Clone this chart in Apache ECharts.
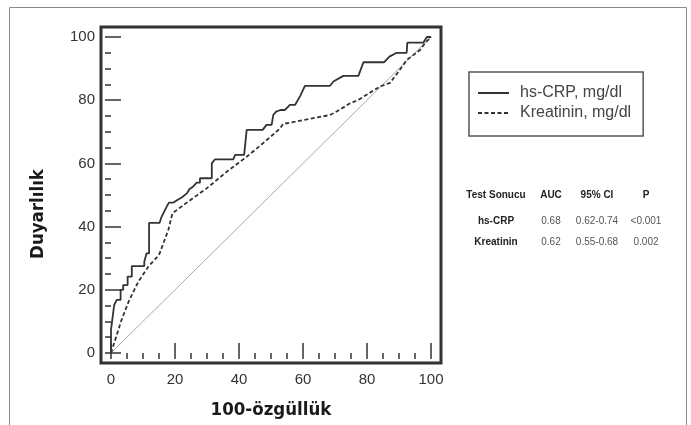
<!DOCTYPE html>
<html>
<head>
<meta charset="utf-8">
<script src="https://cdn.jsdelivr.net/npm/echarts@6/dist/echarts.min.js"></script>
<style>html,body{margin:0;padding:0;background:#fff}#c{width:691px;height:425px}</style>
</head>
<body>
<div id="c"></div>
<script>
// hs-CRP ROC curve (x = 100-özgüllük, y = Duyarlılık)
var crpX = [0,0,0.4,0.4,1,1,1.8,3,3,3.8,3.8,5.2,5.2,6.5,6.5,10.4,10.4,11.1,11.9,11.9,15.2,15.8,16.9,17.4,18.1,19.5,21,22.1,23.7,24.5,25.7,26.8,27.8,27.8,31.5,31.5,32.5,38.2,38.8,41.6,42.4,47.4,48.6,50.2,50.7,51.6,53,54.4,55.9,57.5,59.1,60.6,68.4,69.5,72.6,77.3,78.9,85.3,87,89.3,92.4,92.6,97.6,98.7,100];
var crpY = [0,7.4,7.4,10.5,10.5,15.2,16.8,16.8,20,20,21.5,21.5,24.2,24.2,27.5,27.5,28.9,31.5,31.5,41.2,41.2,43.1,45.3,46.3,47.6,47.6,48.6,49.2,50.5,51.8,52.7,53.9,53.9,55.3,55.3,60,61.3,61.3,62.7,62.7,70.6,70.6,72.2,72.2,75.3,76.4,76.9,76.9,78.5,78.5,81.3,84.5,84.5,85.9,87.7,87.7,92,92,93.8,95,95,98.2,98.2,100,100];
// Kreatinin ROC curve
var kreX = [0,3.3,5.6,8.5,11.7,15,17.9,19.2,22.6,29.9,36.2,42.4,46.6,52.8,53.8,68.4,70.5,74.7,77.3,84,87.2,89.8,92.4,96.6,98.1,100];
var kreY = [0,10.5,16.5,22.5,27.4,31,38.9,44.2,46.8,52.1,57.4,62.1,65.6,71.0,72.5,75.3,76.4,79,80.1,84.3,85.5,89,92.7,95.9,98,100];
// reference diagonal
var refX = [0,100];
var refY = [0,100];
var seriesNames = ['hs-CRP, mg/dl','Kreatinin, mg/dl'];
var tickLabels = [0,20,40,60,80,100];
var minorTicks = [0,5,10,15,20,25,30,35,40,45,50,55,60,65,70,75,80,85,90,95,100];
// table
var tableHeader = ['Test Sonucu','AUC','95% CI','P'];
var tableRows = [['hs-CRP','0.68','0.62-0.74','<0.001'],['Kreatinin','0.62','0.55-0.68','0.002']];

function pairs(xs, ys){ return xs.map(function(x,i){return [x, ys[i]];}); }

var chart = echarts.init(document.getElementById('c'));
var fam = 'Liberation Sans, Arial, sans-serif';
var narrow = '"Liberation Sans Narrow", "DejaVu Sans Condensed", "Liberation Sans", sans-serif';

function makeAxis(isX, major){
  var base = {
    type:'value', min: isX ? -3.125 : -3.16, max: isX ? 103.125 : 103.16,
    axisLine:{show:false}, splitLine:{show:false},
    axisTick: {show:true, inside:true, customValues: major ? tickLabels : minorTicks, length: major ? 10 : 6, lineStyle:{color:'#333', width:1.5}},
    axisLabel: major ? {show:true, customValues: tickLabels, fontSize:15, color:'#333', fontFamily:fam, margin: isX ? 9 : 6} : {show:false}
  };
  if (major) {
    if (isX) {
      base.name = '100-özgüllük'; base.nameLocation = 'middle'; base.nameGap = 38;
      base.nameTextStyle = {fontSize:18.5, fontWeight:'bold', color:'#1a1a1a', fontFamily:narrow};
    } else {
      base.name = 'Duyarlılık'; base.nameLocation = 'middle'; base.nameGap = 53; base.nameRotate = 90;
      base.nameTextStyle = {fontSize:18.5, fontWeight:'bold', color:'#1a1a1a', fontFamily:narrow, padding:[0,38,0,0]};
    }
  }
  return base;
}

var graphics = [
  {type:'rect', shape:{x:9.5, y:7.5, width:677, height:440}, style:{fill:null, stroke:'#8a8a8a', lineWidth:1}, silent:true, z:-1}
];
var colX = [496, 551, 597, 646];
graphics.push.apply(graphics, tableHeader.map(function(t,i){
  return {type:'text', x:colX[i], y:195, style:{text:t, font:'bold 10px '+fam, fill:'#222', align:'center', verticalAlign:'middle'}};
}));
tableRows.forEach(function(r, ri){
  r.forEach(function(t, ci){
    graphics.push({type:'text', x:colX[ci], y:221 + ri*21, style:{text:t, font:(ci===0?'bold ':'')+'10px '+fam, fill: ci===0 ? '#222' : '#555', align:'center', verticalAlign:'middle'}});
  });
});

chart.setOption({
  animation:false,
  backgroundColor:'#fff',
  grid:{left:101, top:27, width:340, height:336, show:true, borderColor:'#333', borderWidth:3, backgroundColor:'transparent'},
  xAxis:[makeAxis(true,true), makeAxis(true,false)],
  yAxis:[makeAxis(false,true), makeAxis(false,false)],
  legend:{
    orient:'vertical', left:469, top:72, data:seriesNames,
    borderColor:'#555', borderWidth:1.5, padding:[13,12,15,8],
    itemWidth:31, itemHeight:10, itemGap:4,
    itemStyle:{opacity:0},
    textStyle:{fontSize:16, color:'#444', fontFamily:fam, padding:[0,0,0,6]}
  },
  graphic: graphics,
  series:[
    {name:seriesNames[0], type:'line', data:pairs(crpX,crpY), symbol:'none', lineStyle:{color:'#333', width:1.8, type:'solid'}, itemStyle:{color:'#333'}, z:4},
    {name:seriesNames[1], type:'line', data:pairs(kreX,kreY), symbol:'none', lineStyle:{color:'#333', width:1.8, type:[4,2.5]}, itemStyle:{color:'#333'}, z:3},
    {name:'ref', type:'line', data:pairs(refX,refY), symbol:'none', lineStyle:{color:'#aaa', width:1}, z:2}
  ]
});
</script>
</body>
</html>
